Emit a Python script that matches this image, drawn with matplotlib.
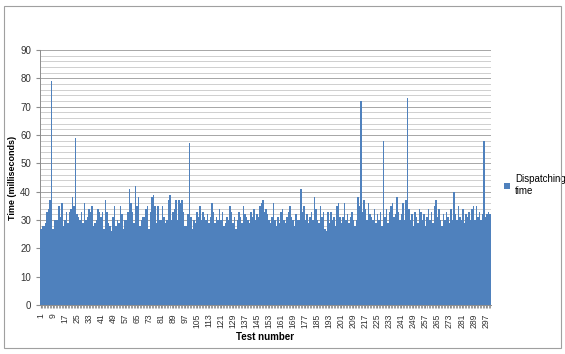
import matplotlib
matplotlib.use("Agg")
import matplotlib.pyplot as plt
import numpy as np

plt.rcParams['font.family'] = ['Liberation Sans', 'DejaVu Sans']

# dispatching time per test (ms)
times = [
    27, 28, 28, 29, 33, 34, 37, 79, 27, 30,
    30, 30, 35, 31, 36, 28, 30, 33, 29, 33,
    34, 38, 35, 59, 32, 31, 30, 33, 29, 36,
    30, 31, 34, 33, 35, 28, 29, 30, 34, 33,
    31, 33, 27, 37, 33, 29, 28, 26, 31, 35,
    28, 30, 29, 35, 32, 27, 30, 30, 33, 41,
    36, 33, 29, 42, 35, 38, 28, 30, 31, 31,
    34, 35, 27, 33, 38, 39, 35, 29, 35, 30,
    30, 35, 31, 29, 30, 37, 39, 30, 33, 34,
    37, 30, 37, 36, 37, 33, 28, 28, 32, 57,
    31, 27, 30, 29, 33, 31, 35, 30, 33, 31,
    30, 32, 29, 31, 36, 33, 29, 31, 30, 34,
    30, 33, 28, 29, 31, 30, 35, 33, 29, 31,
    27, 30, 33, 31, 29, 35, 32, 31, 30, 29,
    33, 31, 34, 30, 32, 31, 35, 36, 37, 33,
    34, 32, 30, 29, 31, 36, 30, 28, 31, 29,
    33, 34, 30, 29, 31, 33, 35, 31, 30, 28,
    32, 30, 30, 41, 33, 35, 30, 32, 29, 31,
    33, 30, 38, 34, 30, 29, 35, 31, 33, 27,
    26, 33, 29, 33, 30, 31, 28, 35, 36, 31,
    29, 31, 36, 30, 32, 29, 31, 33, 30, 28,
    30, 38, 35, 72, 33, 37, 34, 30, 36, 32,
    31, 30, 34, 29, 32, 30, 33, 28, 58, 31,
    34, 29, 33, 35, 36, 31, 32, 38, 33, 30,
    32, 36, 30, 37, 73, 34, 30, 32, 28, 33,
    31, 29, 34, 33, 30, 32, 28, 31, 34, 30,
    33, 29, 35, 37, 31, 34, 30, 28, 32, 30,
    33, 31, 29, 34, 30, 40, 32, 30, 35, 31,
    30, 34, 29, 32, 31, 33, 30, 34, 35, 30,
    35, 31, 33, 30, 32, 58, 31, 32, 33, 32,
]
tests = np.arange(1, len(times) + 1)
tick_labels = list(range(1, 300, 8))

fig = plt.figure(figsize=(5.65, 3.54), dpi=100)
fig.patches.append(plt.Rectangle((0.007, 0.017), 0.986, 0.966, transform=fig.transFigure,
                                 fill=False, edgecolor='#a0a0a0', linewidth=0.8))
ax = fig.add_axes([0.0708, 0.138, 0.798, 0.721])

ax.bar(tests, times, width=1.0, color='#4f81bd', edgecolor='#4f81bd', linewidth=0,
       label='Dispatching\ntime', zorder=3)

ax.set_xlim(0.5, len(times) + 0.5)
ax.set_ylim(0, 90)
ax.set_yticks(range(0, 91, 10))
ax.set_yticks(range(0, 91, 2), minor=True)
ax.grid(axis='y', which='major', color='#a6a6a6', linewidth=0.7, zorder=0)
ax.grid(axis='y', which='minor', color='#cfcfcf', linewidth=0.7, zorder=0)
ax.set_xticks(tick_labels)
ax.set_xticklabels([str(t) for t in tick_labels], rotation=90, fontsize=6.2, color='#333333')
ax.set_xticks(tests, minor=True)
ax.tick_params(axis='x', which='both', length=2.5, color='#8c8c8c')
ax.tick_params(axis='y', which='major', length=3, color='#8c8c8c', labelsize=7,
               labelcolor='#333333')
ax.tick_params(axis='y', which='minor', length=0)

for s in ['top', 'right']:
    ax.spines[s].set_visible(False)
for s in ['left', 'bottom']:
    ax.spines[s].set_color('#8c8c8c')
    ax.spines[s].set_linewidth(0.7)

ax.set_ylabel('Time (milliseconds)', fontsize=6.5, fontweight='bold', labelpad=2)
ax.set_xlabel('Test number', fontsize=7, fontweight='bold', labelpad=3)

ax.legend(loc='center left', bbox_to_anchor=(1.01, 0.47), frameon=False, fontsize=7,
          handlelength=0.6, handleheight=0.6, handletextpad=0.5)

fig.savefig('out.png', dpi=100)
